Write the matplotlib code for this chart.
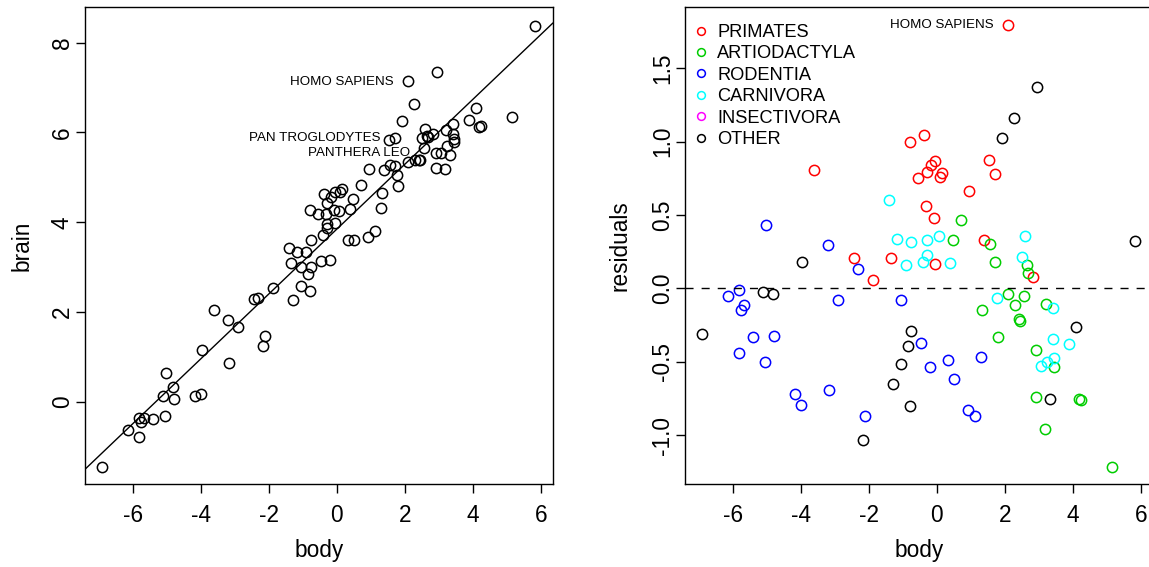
import numpy as np
import matplotlib
matplotlib.use("Agg")
import matplotlib.pyplot as plt
from matplotlib.lines import Line2D

plt.rcParams['font.family'] = ['Liberation Sans', 'DejaVu Sans']
plt.rcParams['axes.unicode_minus'] = False

# ---------------- data (centered log body, log brain, residuals) ----------------
groups = ["PRIMATES", "ARTIODACTYLA", "RODENTIA", "CARNIVORA", "INSECTIVORA", "OTHER"]
group_colors = ["#FF0000", "#00CD00", "#0000FF", "#00FFFF", "#FF00FF", "#000000"]

primates_body = [2.09, -3.60, -0.78, -0.37, -0.05, -0.18, -0.29, 0.15, 0.10, -0.56, 1.54,
                 1.72, 0.95, -0.32, -0.08, 1.38, -2.44, -1.34, -1.88, -0.04, 2.84]
primates_brain = [7.149, 2.052, 4.277, 4.621, 4.679, 4.553, 4.431, 4.741, 4.677, 4.192, 5.832,
                  5.868, 5.196, 4.175, 4.266, 5.169, 2.290, 3.087, 2.543, 3.984, 5.974]
primates_resid = [1.795, 0.806, 0.995, 1.043, 0.870, 0.838, 0.795, 0.788, 0.760, 0.751, 0.875,
                  0.781, 0.665, 0.561, 0.479, 0.328, 0.207, 0.209, 0.055, 0.168, 0.079]

artio_body = [0.71, 0.49, 1.57, 1.71, 2.67, 2.69, 2.11, 2.57, 2.30, 3.21, 2.43,
              2.45, 1.81, 2.93, 3.44, 2.91, 4.19, 4.24, 3.18, 5.16, 1.32]
artio_brain = [4.824, 4.526, 5.283, 5.261, 5.930, 5.889, 5.332, 5.646, 5.392, 6.058, 5.388,
               5.393, 4.818, 5.542, 5.790, 5.203, 6.113, 6.145, 5.180, 6.355, 4.650]
artio_resid = [0.466, 0.327, 0.304, 0.181, 0.157, 0.102, -0.036, -0.055, -0.114, -0.105, -0.211,
               -0.221, -0.334, -0.418, -0.539, -0.743, -0.757, -0.761, -0.961, -1.216, -0.148]

rodentia_body = [-5.03, -3.20, -2.31, -5.81, -6.13, -5.66, -5.75, -2.91, -1.05, -5.39, -4.79, -5.81,
                 -5.06, -0.47, 0.34, -0.19, 0.52, 1.30, -4.16, -3.98, -3.16, -2.10, 0.91, 1.14]
rodentia_brain = [0.647, 1.830, 2.306, -0.360, -0.630, -0.356, -0.455, 1.667, 3.005, -0.381, 0.064, -0.789,
                  -0.308, 3.131, 3.601, 3.169, 3.599, 4.316, 0.121, 0.178, 0.870, 1.461, 3.675, 3.797]
rodentia_resid = [0.434, 0.295, 0.129, -0.010, -0.049, -0.114, -0.148, -0.077, -0.082, -0.334, -0.323, -0.439,
                  -0.500, -0.375, -0.489, -0.539, -0.621, -0.468, -0.720, -0.793, -0.693, -0.868, -0.827, -0.871]

carnivora_body = [-1.40, -1.16, -0.76, -0.29, 0.06, -0.29, -0.41, -0.91, 0.40,
                  2.59, 2.52, 1.76, 3.43, 3.42, 3.90, 3.45, 3.25, 3.07]
carnivora_brain = [3.436, 3.343, 3.609, 3.963, 4.244, 3.863, 3.726, 3.349, 4.304,
                   6.069, 5.875, 5.048, 6.185, 5.971, 6.281, 5.863, 5.692, 5.535]
carnivora_resid = [0.602, 0.336, 0.313, 0.327, 0.356, 0.227, 0.177, 0.161, 0.170,
                   0.354, 0.211, -0.068, -0.136, -0.343, -0.380, -0.473, -0.500, -0.527]

insectivora_body = []
insectivora_brain = []
insectivora_resid = []

other_body = [2.96, 2.26, 1.92, 5.83, -3.96, -5.10, -4.81, -6.90,
              -0.75, -0.84, -1.04, -1.29, -0.78, -2.16, 4.09, 3.33]
other_brain = [7.354, 6.640, 6.258, 8.379, 1.165, 0.136, 0.335, -1.449,
               3.012, 2.848, 2.578, 2.259, 2.478, 1.249, 6.536, 5.497]
other_resid = [1.372, 1.163, 1.027, 0.325, 0.179, -0.027, -0.037, -0.312,
               -0.291, -0.391, -0.516, -0.655, -0.804, -1.036, -0.262, -0.752]

group_body = [primates_body, artio_body, rodentia_body, carnivora_body, insectivora_body, other_body]
group_brain = [primates_brain, artio_brain, rodentia_brain, carnivora_brain, insectivora_brain, other_brain]
group_resid = [primates_resid, artio_resid, rodentia_resid, carnivora_resid, insectivora_resid, other_resid]

# labelled species (text anchor = right end of label)
left_labels = ["HOMO SAPIENS", "PAN TROGLODYTES", "PANTHERA LEO"]
left_label_x = [1.665, 1.274, 2.156]
left_label_y = [7.169, 5.922, 5.577]
right_labels = ["HOMO SAPIENS"]
right_label_x = [1.665]
right_label_y = [1.807]

x_ticks = [-6, -4, -2, 0, 2, 4, 6]
brain_ticks = [0, 2, 4, 6, 8]
resid_ticks = [-1.0, -0.5, 0.0, 0.5, 1.0, 1.5]

# ---------------- figure ----------------
W, H, DPI = 1149, 567, 100
fig = plt.figure(figsize=(W / DPI, H / DPI), dpi=DPI)

FS = 16.3        # axis text
FS_LEG = 13.15   # legend text
FS_LAB = 9.6     # point labels
LW = 1.0
MS = 7.4
MEW = 1.1


def px_axes(left, top, right, bottom):
    return fig.add_axes([left / W, 1 - bottom / H, (right - left) / W, (bottom - top) / H])


def style(ax):
    for s in ax.spines.values():
        s.set_linewidth(LW)
    ax.tick_params(axis='both', length=6.5, width=LW, labelsize=FS, direction='out')
    ax.tick_params(axis='x', pad=8.0)
    ax.tick_params(axis='y', pad=1.6)
    for lab in ax.get_yticklabels():
        lab.set_rotation(90)
        lab.set_verticalalignment('center')


body_all = np.concatenate([np.asarray(b, float) for b in group_body])
brain_all = np.concatenate([np.asarray(b, float) for b in group_brain])

# left panel
ax1 = px_axes(85, 7.3, 552.7, 484.3)
ax1.plot(body_all, brain_all, ls='none', marker='o', ms=MS, mfc='none', mec='black', mew=MEW)
slope, intercept = np.polyfit(body_all, brain_all, 1)
ax1.axline((0, intercept), slope=slope, color='black', lw=LW)
ax1.set_xlim(-7.403, 6.353)
ax1.set_ylim(-1.835, 8.788)
ax1.set_xticks(x_ticks)
ax1.set_yticks(brain_ticks)
ax1.set_xticklabels([str(t) for t in x_ticks])
ax1.set_yticklabels([str(t) for t in brain_ticks])
style(ax1)
ax1.set_xlabel("body", fontsize=FS, va='center')
ax1.set_ylabel("brain", fontsize=FS, va='center')
ax1.xaxis.set_label_coords(0.5, -0.1398)
ax1.yaxis.set_label_coords(-0.1347, 0.5)
for t, x, y in zip(left_labels, left_label_x, left_label_y):
    ax1.annotate(t, xy=(x, y), xytext=(0, -3.4), textcoords='offset points',
                 ha='right', va='baseline', fontsize=FS_LAB)

# right panel
ax2 = px_axes(685, 7.3, 1152.7, 484.3)
for b, r, c in zip(group_body, group_resid, group_colors):
    ax2.plot(b, r, ls='none', marker='o', ms=MS, mfc='none', mec=c, mew=MEW)
ax2.axhline(0, color='black', lw=LW, ls=(0, (5.8, 5.8)))
ax2.set_xlim(-7.403, 6.353)
ax2.set_ylim(-1.336, 1.916)
ax2.set_xticks(x_ticks)
ax2.set_yticks(resid_ticks)
ax2.set_xticklabels([str(t) for t in x_ticks])
ax2.set_yticklabels(["%.1f" % t for t in resid_ticks])
style(ax2)
ax2.set_xlabel("body", fontsize=FS, va='center')
ax2.set_ylabel("residuals", fontsize=FS, va='center')
ax2.xaxis.set_label_coords(0.5, -0.1398)
ax2.yaxis.set_label_coords(-0.139, 0.5)
for t, x, y in zip(right_labels, right_label_x, right_label_y):
    ax2.annotate(t, xy=(x, y), xytext=(0, -3.4), textcoords='offset points',
                 ha='right', va='baseline', fontsize=FS_LAB)

handles = [Line2D([], [], ls='none', marker='o', ms=5.6, mfc='none', mec=c, mew=MEW)
           for c in group_colors]
ax2.legend(handles, groups, loc='upper left', bbox_to_anchor=(0, 0.983), borderaxespad=0,
           frameon=False, fontsize=FS_LEG, borderpad=0.47, handlelength=0.8,
           handletextpad=0.5, labelspacing=0.24)

fig.savefig("out.png", dpi=DPI)
